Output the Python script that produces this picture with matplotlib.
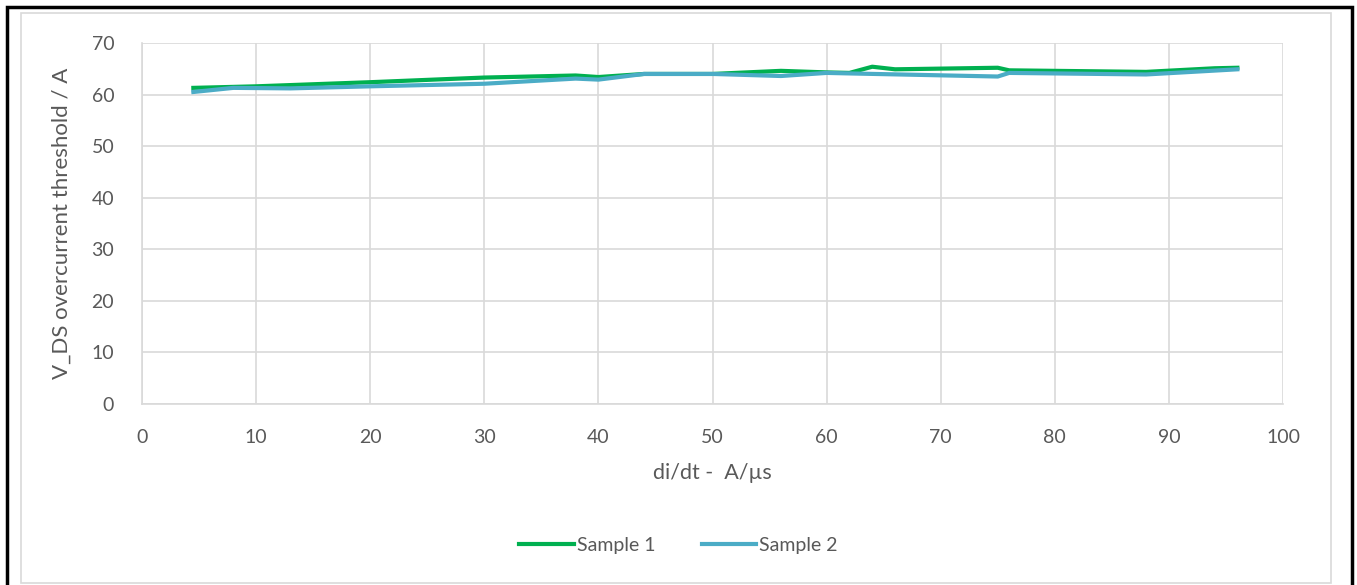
import matplotlib.pyplot as plt
from matplotlib.patches import Rectangle

# Sample 1
x1 = [4.5, 10, 20, 30, 38, 40, 44, 50, 56, 60, 62, 64, 66, 75, 76, 88, 94, 96]
y1 = [61.3, 61.6, 62.4, 63.3, 63.7, 63.4, 64.0, 64.0, 64.6, 64.3, 64.2, 65.4, 64.9, 65.2, 64.7, 64.4, 65.1, 65.2]
# Sample 2
x2 = [4.5, 8, 13, 20, 30, 38, 40, 44, 50, 56, 60, 62, 75, 76, 88, 96]
y2 = [60.5, 61.3, 61.2, 61.6, 62.1, 63.1, 62.9, 64.0, 64.0, 63.6, 64.2, 64.1, 63.5, 64.2, 63.9, 64.9]

GREEN = '#00B050'
BLUE = '#4BACC6'
TEXT = '#595959'
GRID = '#D9D9D9'

plt.rcParams['font.family'] = ['Lato', 'DejaVu Sans']

W, H = 1357, 585
fig = plt.figure(figsize=(W / 100, H / 100), dpi=100)

# outer black frame and inner grey chart border
fig.patches.append(Rectangle((7 / W, -0.05), (1352 - 7) / W, (H - 7) / H + 0.05,
                             transform=fig.transFigure, fill=False,
                             edgecolor='black', linewidth=2.5))
fig.patches.append(Rectangle((21 / W, (H - 583) / H), (1331 - 21) / W, (583 - 13) / H,
                             transform=fig.transFigure, fill=False,
                             edgecolor=GRID, linewidth=1.2))

ax = fig.add_axes([142 / W, (H - 404) / H, (1283 - 142) / W, (404 - 43) / H])
ax.plot(x1, y1, color=GREEN, linewidth=3, label='Sample 1', zorder=3)
ax.plot(x2, y2, color=BLUE, linewidth=3, label='Sample 2', zorder=3)

ax.set_xlim(0, 100)
ax.set_ylim(0, 70)
ax.set_xticks(range(0, 101, 10))
ax.set_yticks(range(0, 71, 10))
ax.grid(True, color=GRID, linewidth=1.2)
for side in ['top', 'right']:
    ax.spines[side].set_visible(False)
for side in ['left', 'bottom']:
    ax.spines[side].set_color(GRID)
    ax.spines[side].set_linewidth(1.2)
ax.tick_params(length=0, labelsize=14, colors=TEXT)
ax.tick_params(axis='x', pad=18)
ax.tick_params(axis='y', pad=20)

ax.set_xlabel('di/dt -  A/µs', fontsize=15.5, color=TEXT, labelpad=12)
ax.set_ylabel('V_DS overcurrent threshold / A', fontsize=16, color=TEXT, labelpad=14)

fig.legend(loc='center', bbox_to_anchor=(0.5, (H - 545) / H), ncol=2, frameon=False,
           fontsize=14, labelcolor=TEXT, handlelength=2.8, handletextpad=0.15,
           columnspacing=2.4)

fig.savefig('out.png', dpi=100, facecolor='white')
